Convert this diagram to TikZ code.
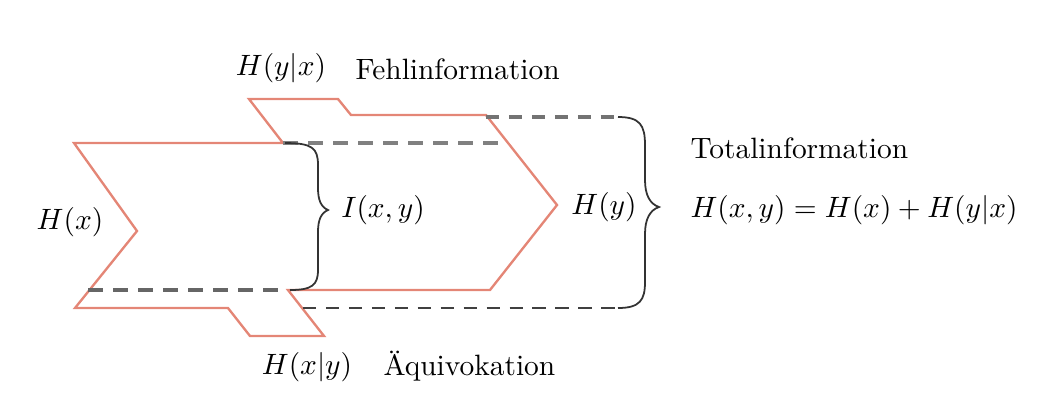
\documentclass[tikz,border=0pt]{standalone}
\usetikzlibrary{positioning}
\definecolor{shapered}{RGB}{228,134,118}
\begin{document}
\begin{tikzpicture}[x=0.01195cm,y=-0.01195cm]
    \useasboundingbox (0,0) rectangle (1040,408);
    \begin{scope}[inner sep=0pt]

    % outline of H(x) and H(y)
    \draw[shapered,line width=0.8pt] (74,143) -- (283,143) -- (249,99) -- (338,99) -- (351,115) -- (486,115) -- (557,205) -- (490,290) -- (288,290) -- (324,336) -- (250,336) -- (228,308) -- (75,308) -- (137,231) -- cycle;

    % dashed limits
    \draw[black!50,line width=1.3pt,dash pattern=on 5pt off 3.5pt] (283,143) -- (508,143);
    \draw[black!60,line width=1.3pt,dash pattern=on 5pt off 3.5pt] (88,290) -- (288,290);
    \draw[black!55,line width=1.1pt,dash pattern=on 4.5pt off 3.3pt] (486,117) -- (620,117);
    \draw[black!75,line width=1pt,dash pattern=on 4.5pt off 3.3pt] (303,308) -- (620,308);

    % braces
    \draw[black!80,line width=0.6pt] (285,143) .. controls (312,143) and (318,148) .. (318,165) -- (318,188) .. controls (318,200) and (321,207) .. (328,210) .. controls (321,213) and (318,220) .. (318,232) -- (318,270) .. controls (318,285) and (312,290) .. (290,290);
    \draw[black!80,line width=0.6pt] (618,117) .. controls (640,117) and (645,125) .. (645,145) -- (645,180) .. controls (645,195) and (650,204) .. (659,207) .. controls (650,210) and (645,219) .. (645,234) -- (645,282) .. controls (645,300) and (640,308) .. (618,308);

    \node (hx) at (70,222) {$H(x)$};
    \node (ixy) at (383,210) {$I(x,y)$};
    \node (hy) at (604,207) {$H(y)$};
    \node (hyx) at (281,68) {$H(y|x)$};
    \node[anchor=west] (fehl) at (355,69) {Fehlinformation};
    \node (hxy) at (307,367) {$H(x|y)$};
    \node[anchor=west] (aequi) at (383,366) {Äquivokation};
    \node[anchor=west] (total) at (690,148) {Totalinformation};
    \node[anchor=west] (hxyeq) at (690,210) {$H(x,y)=H(x)+H(y|x)$};

    \end{scope}
\end{tikzpicture}
\end{document}
